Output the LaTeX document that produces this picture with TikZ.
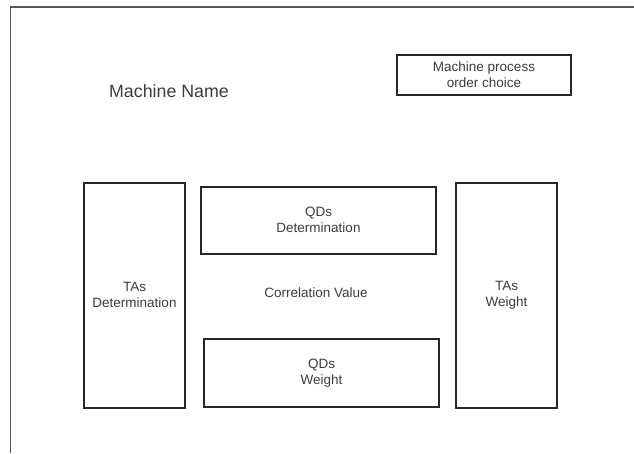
\documentclass[tikz,border=0pt]{standalone}
\usepackage{fontspec}
\setmainfont{Liberation Sans}
\usepackage{tikz}
\definecolor{inkbox}{RGB}{40, 40, 40}
\definecolor{inktext}{RGB}{60, 60, 60}
\definecolor{inkframe}{RGB}{85, 85, 85}
\tikzset{
  panel/.style={draw=inkbox, line width=2pt, text=inktext, align=center, inner sep=0pt,
                font=\fontsize{13.5}{16}\selectfont},
  caption/.style={text=inktext, align=center, inner sep=0pt}
}
\begin{document}
\begin{tikzpicture}[x=1pt, y=-1pt]
            \useasboundingbox (0,0) rectangle (634,453);
            \draw[inkframe, line width=1.5pt] (634,7) -- (10.3,7) -- (10.3,453);
            \node[caption, font=\fontsize{17.8}{20}\selectfont] (mname) at (169, 91) {Machine Name};
            \node[panel, minimum width=174pt, minimum height=40pt] (order)   at (484, 75)    {Machine process\\order choice};
            \node[panel, minimum width=101pt, minimum height=225pt] (tasdet) at (134.5, 295) {TAs\\Determination};
            \node[panel, minimum width=235pt, minimum height=67pt]  (qdsdet) at (318.5, 220) {QDs\\Determination};
            \node[caption, font=\fontsize{13.5}{16}\selectfont] (corr)   at (316, 293)   {Correlation Value};
            \node[panel, minimum width=235pt, minimum height=68pt]  (qdswt)  at (321.5, 373) {QDs\\Weight};
            \node[panel, minimum width=101pt, minimum height=225pt] (taswt)  at (506.5, 295) {TAs\\Weight};
            \end{tikzpicture}
\end{document}
